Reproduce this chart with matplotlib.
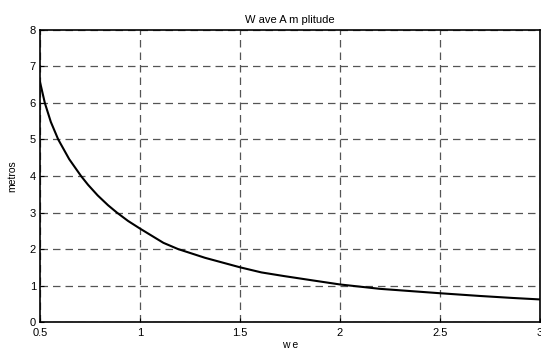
import matplotlib
matplotlib.use("Agg")
import matplotlib.pyplot as plt

# values
we = [0.5, 0.524, 0.554, 0.591, 0.646, 0.705, 0.74, 0.788, 0.84, 0.884,
      0.94, 1.0, 1.117, 1.19, 1.325, 1.5, 1.607, 1.72, 1.865, 2.0, 2.2,
      2.4, 2.5, 2.7, 2.865, 3.0]
amp = [6.57, 6.0, 5.48, 5.0, 4.46, 4.0, 3.76, 3.47, 3.2, 3.0,
       2.77, 2.56, 2.17, 2.0, 1.76, 1.50, 1.36, 1.26, 1.14, 1.03, 0.91,
       0.83, 0.79, 0.715, 0.66, 0.62]

xticks = [0.5, 1, 1.5, 2, 2.5, 3]
xticklabels = ["0.5", "1", "1.5", "2", "2.5", "3"]
yticks = [0, 1, 2, 3, 4, 5, 6, 7, 8]

plt.rcParams['font.family'] = ['Liberation Sans', 'DejaVu Sans']

fig = plt.figure(figsize=(5.41, 3.52), dpi=100)
ax = fig.add_axes([0.074, 0.085, 0.924, 0.83])
ax.plot(we, amp, color='black', linewidth=1.5)

ax.set_xlim(0.5, 3)
ax.set_ylim(0, 8)
ax.set_xticks(xticks)
ax.set_xticklabels(xticklabels)
ax.set_yticks(yticks)
ax.tick_params(direction='in', length=3, labelsize=8, pad=3)
ax.tick_params(axis='x', pad=4.5)
ax.grid(True, color='#555555', linestyle=(0, (6, 4)), linewidth=0.9)
for s in ax.spines.values():
    s.set_linewidth(1.2)

ax.set_title('W ave A m plitude', fontsize=8, pad=5)
ax.set_xlabel('w e', fontsize=7.5, labelpad=1)
ax.set_ylabel('metros', fontsize=7.5, labelpad=9)

fig.savefig("out.png", dpi=100)
